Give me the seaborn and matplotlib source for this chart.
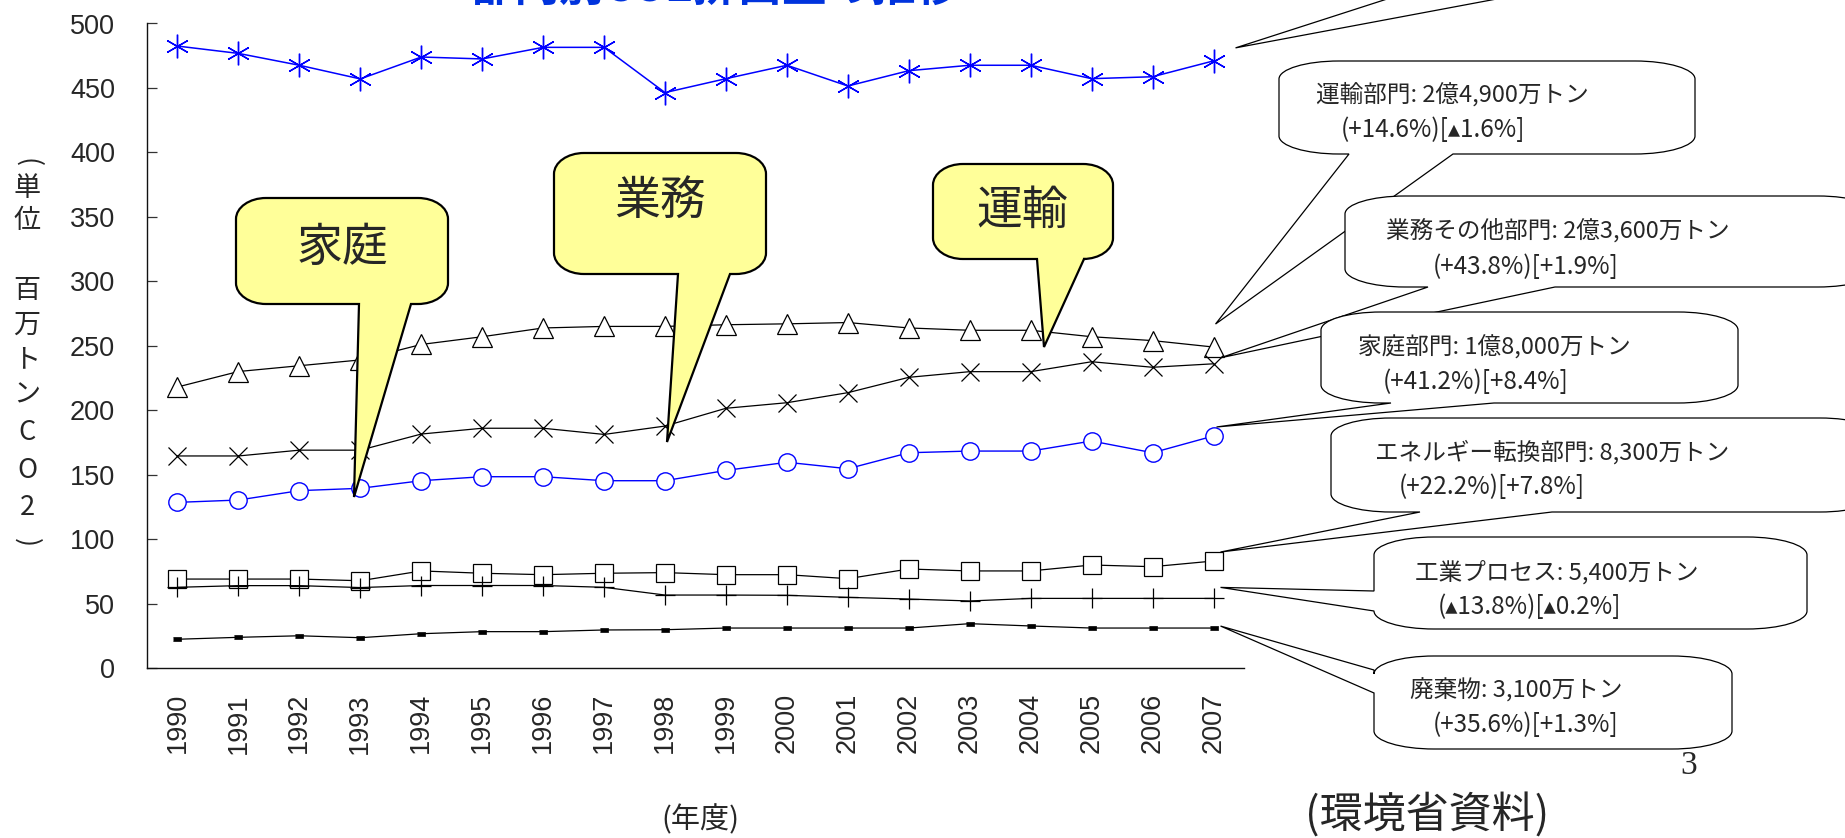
import matplotlib
matplotlib.use("Agg")
import matplotlib.pyplot as plt
import seaborn as sns
from matplotlib.path import Path
from matplotlib.patches import PathPatch

# ---- data (million t-CO2) ----
years = list(range(1990, 2008))
industry = [482.5, 476.8, 467.6, 457.0, 474.0, 472.5, 481.5, 481.5, 446.4,
            457.2, 467.6, 451.5, 463.4, 467.6, 467.6, 457.2, 458.7, 471.0]
transport = [218.0, 230.0, 234.5, 239.0, 251.0, 257.0, 263.8, 265.0, 265.0,
             266.3, 267.0, 268.0, 263.8, 262.0, 262.0, 257.0, 254.0, 249.0]
commercial = [164.5, 164.5, 169.0, 169.0, 181.5, 186.0, 186.0, 181.2, 187.7,
              201.5, 205.8, 213.6, 225.5, 229.9, 229.9, 237.6, 233.3, 236.0]
residential = [128.5, 130.3, 137.6, 139.4, 145.3, 148.4, 148.4, 145.3, 145.3,
               153.3, 159.6, 154.6, 167.0, 168.3, 168.3, 176.1, 167.0, 180.0]
energy = [69.0, 69.0, 69.0, 67.7, 75.3, 73.5, 72.4, 73.5, 74.0,
          72.4, 72.4, 69.3, 76.8, 75.3, 75.3, 79.9, 78.6, 83.0]
process = [62.6, 63.9, 63.9, 62.4, 64.0, 64.0, 64.0, 62.6, 56.6,
           56.6, 56.4, 54.8, 53.5, 52.0, 54.0, 54.0, 54.0, 54.0]
waste = [22.3, 23.8, 25.0, 23.5, 26.6, 28.2, 28.2, 29.5, 29.7,
         31.0, 31.0, 31.0, 31.0, 34.4, 32.6, 31.0, 31.0, 31.0]

yticks = list(range(0, 501, 50))

callout_texts = {
    "transport": ("運輸部門: 2億4,900万トン", "(+14.6%)[▴1.6%]"),
    "commercial": ("業務その他部門: 2億3,600万トン", "(+43.8%)[+1.9%]"),
    "residential": ("家庭部門: 1億8,000万トン", "(+41.2%)[+8.4%]"),
    "energy": ("エネルギー転換部門: 8,300万トン", "(+22.2%)[+7.8%]"),
    "process": ("工業プロセス: 5,400万トン", "(▴13.8%)[▴0.2%]"),
    "waste": ("廃棄物: 3,100万トン", "(+35.6%)[+1.3%]"),
}
bubble_labels = ["家庭", "業務", "運輸"]
title_text = "部門別CO2排出量の推移"
ylabel_chars = ["(", "単", "位", "百", "万", "ト", "ン", "C", "O", "2", ")"]

# ---- style ----
sns.set_style("white")
plt.rcParams["font.family"] = ["Liberation Sans", "Noto Sans CJK JP", "DejaVu Sans"]
JP = ["Noto Sans CJK JP", "DejaVu Sans"]

W, H = 1845, 838
fig = plt.figure(figsize=(W / 100, H / 100), dpi=100)
fig.patch.set_facecolor("white")

ax = fig.add_axes([147 / W, (H - 668) / H, (1244 - 147) / W, (668 - 23.5) / H])

BLUE = "#0000FF"
common = dict(ax=ax, legend=False, clip_on=False)
sns.lineplot(x=years, y=industry, color=BLUE, lw=1.1, marker=(6, 2, 0),
             markersize=17, markeredgecolor=BLUE, markeredgewidth=1.0, **common)
sns.lineplot(x=years, y=transport, color="black", lw=0.9, marker="^",
             markersize=15, markerfacecolor="white", markeredgecolor="black",
             markeredgewidth=0.9, **common)
sns.lineplot(x=years, y=commercial, color="black", lw=0.9, marker="x",
             markersize=13.5, markeredgecolor="black", markeredgewidth=0.9, **common)
sns.lineplot(x=years, y=residential, color=BLUE, lw=1.0, marker="o",
             markersize=12.5, markerfacecolor="white", markeredgecolor=BLUE,
             markeredgewidth=1.0, **common)
sns.lineplot(x=years, y=energy, color="black", lw=0.9, marker="s",
             markersize=13, markerfacecolor="white", markeredgecolor="black",
             markeredgewidth=0.9, **common)
sns.lineplot(x=years, y=process, color="black", lw=0.9, marker="+",
             markersize=15, markeredgecolor="black", markeredgewidth=0.9, **common)
sns.lineplot(x=years, y=waste, color="black", lw=0.9,
             marker=[(-1, -0.45), (1, -0.45), (1, 0.45), (-1, 0.45)],
             markersize=5.5, markerfacecolor="black", markeredgecolor="black",
             markeredgewidth=0.5, **common)

ax.set_xlim(1989.5, 2007.5)
ax.set_ylim(0, 500)
ax.set_xlabel("")
ax.set_ylabel("")
ax.set_yticks(yticks)
ax.set_yticklabels([str(v) for v in yticks], fontsize=19.5)
ax.set_xticks(years)
ax.set_xticklabels([str(y) for y in years], rotation=90, fontsize=19.5)
ax.set_xticks([y - 0.5 for y in years] + [2007.5], minor=True)
ax.tick_params(axis="x", which="major", length=0, pad=18)
ax.tick_params(axis="x", which="minor", direction="in", length=6.5, width=0.9,
               color="#333333")
ax.tick_params(axis="y", which="major", direction="in", length=7, width=0.9,
               color="#333333", pad=23, left=True)
for s in ("top", "right"):
    ax.spines[s].set_visible(False)
for s in ("left", "bottom"):
    ax.spines[s].set_color("#111111")
    ax.spines[s].set_linewidth(1.0)

# ---- overlay in pixel coordinates (y down) ----
ov = fig.add_axes([0, 0, 1, 1])
ov.set_xlim(0, W)
ov.set_ylim(H, 0)
ov.axis("off")
ov.set_zorder(5)


def to_px(x, y):
    dx, dy = ax.transData.transform((x, y))
    return dx, H - dy


def bubble_path(L, R, T, B, rx, ry, base=None, tip=None, side="bottom"):
    k = 0.5523
    v, c = [], []

    def ln(p):
        v.append(p)
        c.append(Path.LINETO)

    def cv(p1, p2, p3):
        v.extend([p1, p2, p3])
        c.extend([Path.CURVE4] * 3)

    v.append((L + rx, T))
    c.append(Path.MOVETO)
    ln((R - rx, T))
    cv((R - rx + k * rx, T), (R, T + ry - k * ry), (R, T + ry))
    ln((R, B - ry))
    cv((R, B - ry + k * ry), (R - rx + k * rx, B), (R - rx, B))
    if base is not None and side == "bottom":
        ln((base[1], B))
        ln(tip)
        ln((base[0], B))
    ln((L + rx, B))
    cv((L + rx - k * rx, B), (L, B - ry + k * ry), (L, B - ry))
    if base is not None and side == "left":
        ln((L, base[1]))
        ln(tip)
        ln((L, base[0]))
    ln((L, T + ry))
    cv((L, T + ry - k * ry), (L + rx - k * rx, T), (L + rx, T))
    v.append((L + rx, T))
    c.append(Path.CLOSEPOLY)
    return Path(v, c)


def add_bubble(path, face, lw):
    ov.add_patch(PathPatch(path, facecolor=face, edgecolor="black", lw=lw,
                           joinstyle="miter"))


# white callouts on the right, pointing at the 2007 values
last = {"industry": industry[-1], "transport": transport[-1],
        "commercial": commercial[-1], "residential": residential[-1],
        "energy": energy[-1], "process": process[-1], "waste": waste[-1]}
specs = [
    ("industry", (1300, 1800, -150, -20), (1446, 1598), (22, -13), "bottom", None),
    ("transport", (1279, 1695, 61, 154), (1349, 1453), (2, -23), "bottom",
     ((1316, 94), (1341, 130))),
    ("commercial", (1345, 1878, 196, 287), (1428, 1555), (7, -6), "bottom",
     ((1386, 230), (1433, 267))),
    ("residential", (1321, 1738, 312, 403), (1391, 1494), (3, -9), "bottom",
     ((1358, 347), (1383, 382))),
    ("energy", (1331, 1880, 418, 512), (1420, 1552), (7, -9), "bottom",
     ((1375, 452), (1399, 487))),
    ("process", (1374, 1807, 537, 629), (591, 611), (7, -11), "left",
     ((1415, 572), (1438, 607))),
    ("waste", (1374, 1732, 656, 749), (670, 693), (7, -2), "left",
     ((1410, 690), (1433, 725))),
]
for key, (L, R, T, B), base, off, side, tpos in specs:
    px, py = to_px(2007, last[key])
    tip = (px + off[0], py + off[1])
    add_bubble(bubble_path(L, R, T, B, 60, 18, base, tip, side), "white", 0.9)
    if tpos is not None:
        l1, l2 = callout_texts[key]
        ov.text(*tpos[0], l1, fontsize=17, ha="left", va="center", family=JP)
        ov.text(*tpos[1], l2, fontsize=17.5, ha="left", va="center", family=JP)

# yellow speech bubbles
YELLOW = "#FFFF99"
ybubbles = [
    ((236, 448, 198, 304), (359, 411), (354, 497), (342, 248)),
    ((554, 766, 153, 274), (678, 730), (667, 442), (660, 201)),
    ((933, 1113, 164, 259), (1037, 1084), (1044, 347), (1022, 211)),
]
for label, ((L, R, T, B), base, tip, tc) in zip(bubble_labels, ybubbles):
    add_bubble(bubble_path(L, R, T, B, 30, 21, base, tip, "bottom"), YELLOW, 1.6)
    ov.text(*tc, label, fontsize=33, ha="center", va="center", family=JP)

# vertical axis title, one character per row (brackets turned sideways)
ylabel_rows = [163, 188, 220, 290, 325, 360, 395, 432, 470, 507, 543]
for ch, yy in zip(ylabel_chars, ylabel_rows):
    rot = -90 if ch in "()" else 0
    ov.text(27, yy, ch, fontsize=19.5, ha="center", va="center", family=JP,
            rotation=rot, rotation_mode="anchor" if rot == 0 else "default")

ov.text(700, 820, "(年度)", fontsize=21, ha="center", va="center", family=JP)
ov.text(1427, 816, "(環境省資料)", fontsize=31, ha="center", va="center", family=JP)
ov.text(1689, 766, "3", fontsize=24, ha="center", va="center",
        family=["Liberation Serif", "DejaVu Serif"])
ov.text(471, 12, title_text, fontsize=32, ha="left", va="bottom",
        color="#0033DD", fontweight="bold", family=JP)

fig.savefig("out.png", dpi=100, facecolor="white")
